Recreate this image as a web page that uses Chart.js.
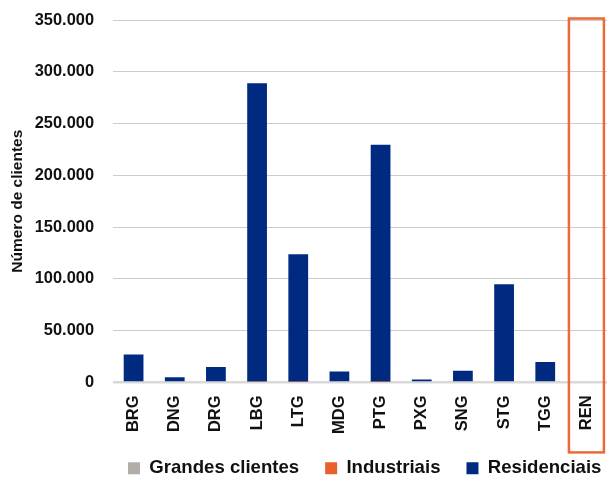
<!DOCTYPE html>
<html><head><meta charset="utf-8">
<script src="https://cdn.jsdelivr.net/npm/chart.js@4.4.1/dist/chart.umd.min.js"></script>
<style>html,body{margin:0;padding:0;background:#fff;}#wrap{width:607px;height:477px;position:relative;}</style>
</head><body><div id="wrap"><canvas id="c"></canvas></div>
<script>
const categories = ['BRG','DNG','DRG','LBG','LTG','MDG','PTG','PXG','SNG','STG','TGG','REN'];
const grandesClientes = [0,0,0,0,0,0,0,0,0,0,0,0];
const industriais = [0,0,0,800,700,0,700,0,0,0,0,0];
const residenciais = [27000,5000,14800,288000,123000,10600,228800,2900,11200,94800,19600,0];
const yTicks = [0,50000,100000,150000,200000,250000,300000,350000];
const seriesNames = ['Grandes clientes','Industriais','Residenciais'];
const yTitle = 'Número de clientes';
const highlighted = 'REN';

const FAM = '"Liberation Sans", Arial, sans-serif';
const SZ = {tick:16.4, x:16.5, title:15.5, legend:18.6};

function fmt(v){ return String(v).replace(/\B(?=(\d{3})+(?!\d))/g,'.'); }

const boxPlugin = {
  id:'highlightBox',
  afterLayout(chart){
    const lg = chart.legend;
    const w = lg.right - lg.left;
    lg.left = 102; lg.right = 102 + w;
  },
  afterDraw(chart){
    const xs = chart.scales.x, ca = chart.chartArea, ctx = chart.ctx;
    const i = categories.indexOf(highlighted);
    const cx = xs.getPixelForValue(i);
    const half = (xs.getPixelForValue(1) - xs.getPixelForValue(0)) * 0.425;
    ctx.save();
    ctx.strokeStyle = '#EC6A37';
    ctx.lineWidth = 2.5;
    const top = ca.top - 1.5;
    ctx.strokeRect(cx - half, top, 2*half, ca.bottom + 70 - top);
    ctx.restore();
  }
};

new Chart(document.getElementById('c'), {
  type:'bar',
  data:{
    labels: categories,
    datasets:[
      {label:seriesNames[0], data:grandesClientes, backgroundColor:'#B3ADA8'},
      {label:seriesNames[1], data:industriais, backgroundColor:'#E8612C'},
      {label:seriesNames[2], data:residenciais, backgroundColor:'#002A80'}
    ]
  },
  options:{
    responsive:true, maintainAspectRatio:false, animation:false,
    datasets:{bar:{barPercentage:0.48, categoryPercentage:1}},
    layout:{padding:{top:20, right:0, left:0, bottom:-10.5}},
    plugins:{
      legend:{position:'bottom', align:'start',
        labels:{boxWidth:12, boxHeight:12, padding:26, color:'#111',
          font:{family:FAM, size:SZ.legend, weight:'bold'}}},
      tooltip:{enabled:false}
    },
    scales:{
      x:{stacked:true,
        afterFit(s){ s.height = 50.5; s.paddingLeft = 0; s.paddingRight = 0; },
        grid:{display:false, drawTicks:false}, border:{display:false},
        ticks:{maxRotation:90, minRotation:90, padding:13, color:'#111',
          font:{family:FAM, size:SZ.x, weight:'bold'}}},
      y:{stacked:true, min:0, max:350000,
        afterBuildTicks(s){ s.ticks = yTicks.map(v=>({value:v})); },
        afterFit(s){ s.width = 113; s.paddingTop = 0; s.paddingBottom = 0; },
        grid:{drawTicks:false, color:(c)=>c.tick && c.tick.value===0 ? '#d9d9d9' : '#cccccc',
          lineWidth:(c)=>c.tick && c.tick.value===0 ? 2.5 : 1},
        border:{display:false},
        title:{display:true, text:yTitle, color:'#111', padding:{top:8.7, bottom:4},
          font:{family:FAM, size:SZ.title, weight:'bold'}},
        ticks:{padding:19, color:'#111', callback:(v)=>fmt(v),
          font:{family:FAM, size:SZ.tick, weight:'bold'}}}
    }
  },
  plugins:[boxPlugin]
});
</script></body></html>
